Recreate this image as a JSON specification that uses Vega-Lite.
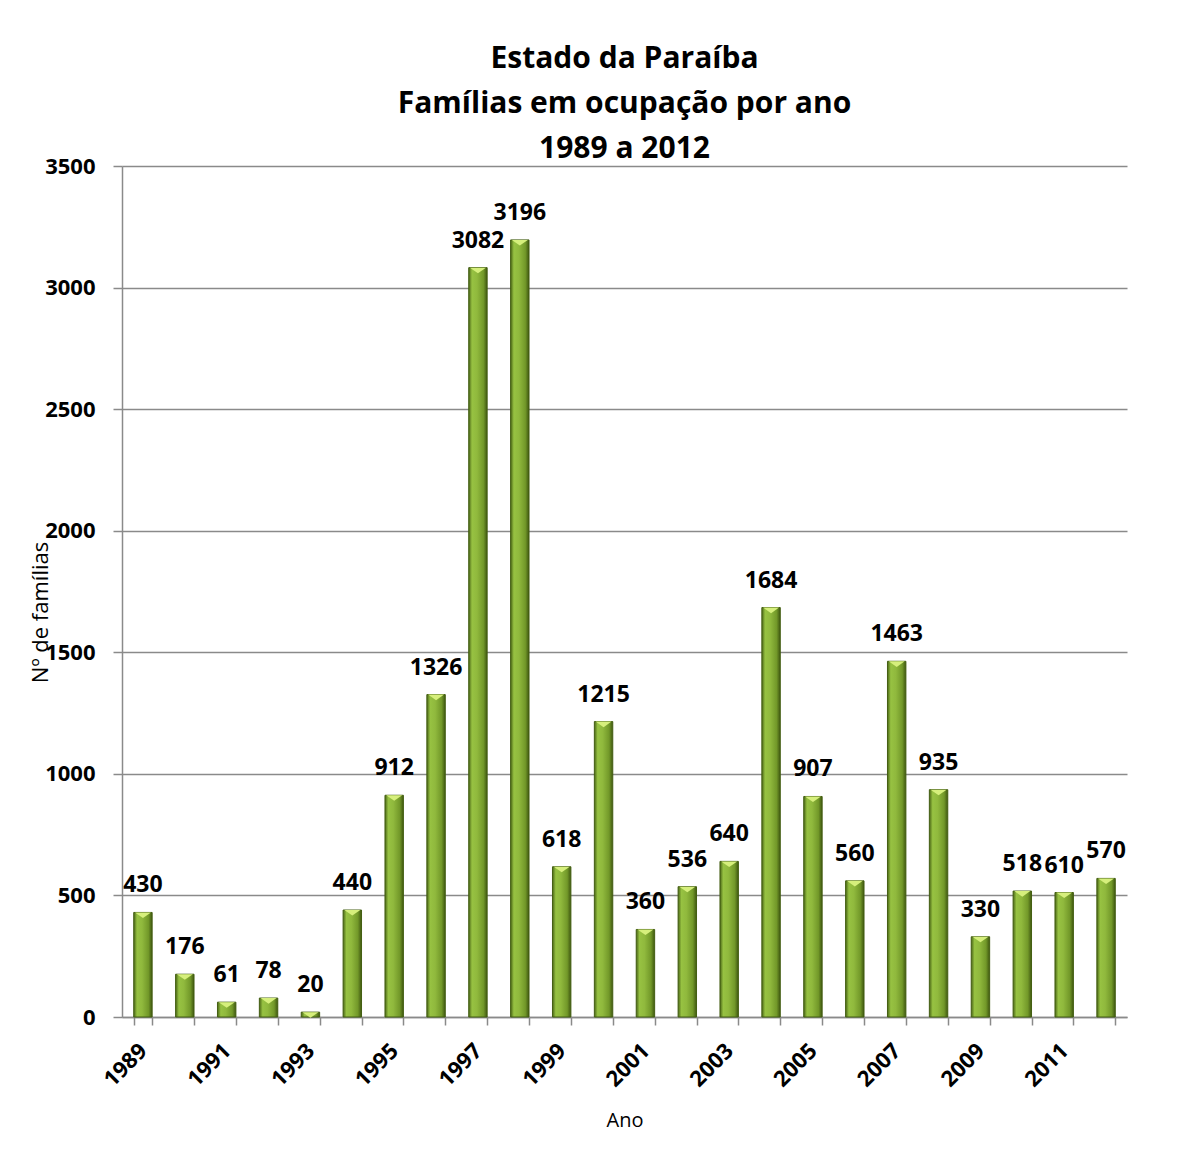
{
  "$schema": "https://vega.github.io/schema/vega-lite/v6.json",
  "width": 1005,
  "height": 851,
  "autosize": {"type": "none"},
  "padding": {"left": 122, "top": 166, "right": 59, "bottom": 157},
  "background": "white",
  "config": {"view": {"stroke": null}, "font": "Open Sans"},
  "title": {
    "text": ["Estado da Paraíba", "Famílias em ocupação por ano", "1989 a 2012"],
    "fontSize": 30,
    "fontWeight": "bold",
    "lineHeight": 45,
    "anchor": "middle",
    "baseline": "bottom",
    "offset": 6,
    "dy": 45,
    "color": "black",
    "font": "Open Sans"
  },
  "data": {
    "values": [
      {"ano": 1989, "valor": 430, "rotulo": "430"},
      {"ano": 1990, "valor": 176, "rotulo": "176"},
      {"ano": 1991, "valor": 61, "rotulo": "61"},
      {"ano": 1992, "valor": 78, "rotulo": "78"},
      {"ano": 1993, "valor": 20, "rotulo": "20"},
      {"ano": 1994, "valor": 440, "rotulo": "440"},
      {"ano": 1995, "valor": 912, "rotulo": "912"},
      {"ano": 1996, "valor": 1326, "rotulo": "1326"},
      {"ano": 1997, "valor": 3082, "rotulo": "3082"},
      {"ano": 1998, "valor": 3196, "rotulo": "3196"},
      {"ano": 1999, "valor": 618, "rotulo": "618"},
      {"ano": 2000, "valor": 1215, "rotulo": "1215"},
      {"ano": 2001, "valor": 360, "rotulo": "360"},
      {"ano": 2002, "valor": 536, "rotulo": "536"},
      {"ano": 2003, "valor": 640, "rotulo": "640"},
      {"ano": 2004, "valor": 1684, "rotulo": "1684"},
      {"ano": 2005, "valor": 907, "rotulo": "907"},
      {"ano": 2006, "valor": 560, "rotulo": "560"},
      {"ano": 2007, "valor": 1463, "rotulo": "1463"},
      {"ano": 2008, "valor": 935, "rotulo": "935"},
      {"ano": 2009, "valor": 330, "rotulo": "330"},
      {"ano": 2010, "valor": 518, "rotulo": "518"},
      {"ano": 2011, "valor": 512, "rotulo": "610"},
      {"ano": 2012, "valor": 570, "rotulo": "570"}
    ]
  },
  "encoding": {
    "x": {
      "field": "ano",
      "type": "ordinal",
      "scale": {"paddingInner": 0.56, "paddingOuter": 0.28},
      "axis": {
        "title": "Ano",
        "titleFontSize": 20,
        "titleFontWeight": "normal",
        "titleColor": "black",
        "titleY": 103,
        "titleBaseline": "middle",
        "labelAngle": -45,
        "labelAlign": "right",
        "labelBaseline": "middle",
        "labelPadding": 22,
        "labelFontSize": 22,
        "labelFontWeight": "bold",
        "labelColor": "black",
        "labelExpr": "datum.value % 2 == 1 ? datum.label : ''",
        "tickBand": "extent",
        "tickSize": 8,
        "tickColor": "#8a8a8a",
        "tickWidth": 1.5,
        "domainColor": "#8a8a8a",
        "domainWidth": 1.5,
        "grid": false
      }
    },
    "y": {
      "field": "valor",
      "type": "quantitative",
      "scale": {"domain": [0, 3500], "nice": false},
      "axis": {
        "title": "Nº de famílias",
        "titleFontSize": 22,
        "titleFontWeight": "normal",
        "titleColor": "black",
        "titleX": -82,
        "titleY": 446,
        "titleAngle": -90,
        "titleBaseline": "middle",
        "titleAlign": "center",
        "values": [0, 500, 1000, 1500, 2000, 2500, 3000, 3500],
        "format": "d",
        "labelFontSize": 22,
        "labelFontWeight": "bold",
        "labelColor": "black",
        "labelPadding": 18,
        "tickSize": 9,
        "tickColor": "#8a8a8a",
        "tickWidth": 1.5,
        "domainColor": "#8a8a8a",
        "domainWidth": 1.5,
        "grid": true,
        "gridColor": "#8a8a8a",
        "gridWidth": 1.5
      }
    }
  },
  "layer": [
    {
      "mark": {
        "type": "bar",
        "stroke": "#435e12",
        "strokeWidth": 1,
        "color": {
          "gradient": "linear",
          "x1": 0, "y1": 0, "x2": 1, "y2": 0,
          "stops": [
            {"offset": 0, "color": "#4a6616"},
            {"offset": 0.18, "color": "#97c242"},
            {"offset": 0.45, "color": "#90b93d"},
            {"offset": 0.8, "color": "#729829"},
            {"offset": 1, "color": "#3f5710"}
          ]
        }
      }
    },
    {
      "mark": {
        "type": "point",
        "shape": "M-1,0L1,0L0,0.7Z",
        "filled": true,
        "opacity": 1,
        "color": "#d6ef7c",
        "size": 256,
        "strokeWidth": 0
      }
    },
    {
      "mark": {
        "type": "text",
        "dy": -27,
        "baseline": "middle",
        "align": "center",
        "fontSize": 23,
        "fontWeight": "bold",
        "color": "black"
      },
      "encoding": {"text": {"field": "rotulo", "type": "nominal"}}
    }
  ]
}
